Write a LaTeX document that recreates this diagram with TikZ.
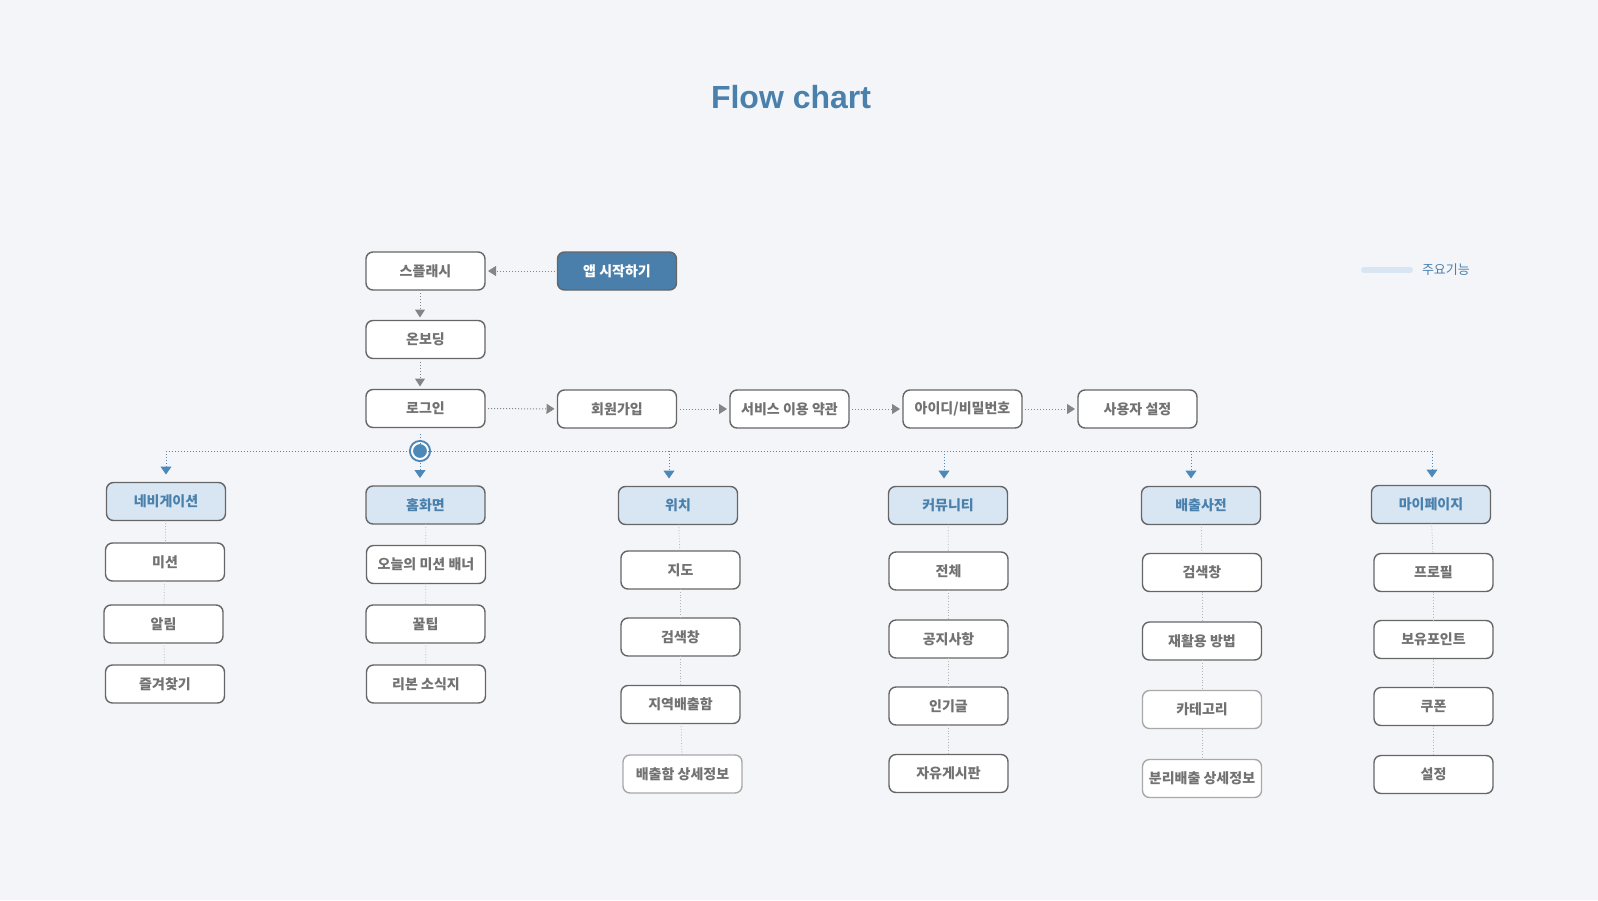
\documentclass[tikz,border=0pt]{standalone}
\usepackage{fontspec}
\newfontfamily\krfont{Noto Sans CJK KR}
\newfontfamily\titlefont{Liberation Sans}
\definecolor{bg}{HTML}{F3F5F9}
\definecolor{bd}{HTML}{666666}
\definecolor{bdl}{HTML}{A8A8A8}
\definecolor{tx}{HTML}{727272}
\definecolor{hd}{HTML}{D8E6F3}
\definecolor{hdtx}{HTML}{4A80AC}
\definecolor{st}{HTML}{4A7FAB}
\definecolor{ln}{HTML}{4D89B8}
\definecolor{ar}{HTML}{858585}
\definecolor{lk}{HTML}{B5B5B5}
\usepackage{tikz}
\usetikzlibrary{arrows.meta}
\tikzstyle{base}=[x=1pt, y=-1pt, inner sep=0pt, outer sep=0pt]
\tikzstyle{box}=[draw=bd, line width=1.4pt, rounded corners=7pt, fill=white, minimum width=119pt, minimum height=38pt, text=tx, font=\krfont\bfseries\fontsize{14}{16}\selectfont]
\tikzstyle{faint}=[box, draw=bdl]
\tikzstyle{head}=[box, fill=hd, text=hdtx]
\tikzstyle{start}=[box, fill=st, text=white]
\tikzstyle{flow}=[draw=ar, line width=1pt, dotted, -{Triangle[width=10pt,length=8pt]}, shorten <=3pt, shorten >=3pt]
\tikzstyle{bus}=[draw=ln, line width=1pt, dotted]
\tikzstyle{drop}=[bus, -{Triangle[width=11pt,length=8pt]}, shorten >=8pt]
\tikzstyle{link}=[draw=lk, line width=0.8pt, dotted]

\begin{document}
\begin{tikzpicture}[base]
    \fill [bg] (0,0) rectangle (1598,900);
    \path [use as bounding box] (0,0) rectangle (1598,900);
    \node [font=\titlefont\bfseries\fontsize{32}{36}\selectfont, text=hdtx] (title) at (791,97) {Flow chart};

    \coordinate (k1) at (1364,270);
    \coordinate (k2) at (1410,270);
    \draw [hd, line width=6pt, line cap=round] (k1) -- (k2);
    \node [anchor=west, text=hdtx, font=\krfont\fontsize{13}{15}\selectfont] (key) at (1422,270) {주요기능};

    \node [box] (splash) at (425.5,271) {스플래시};
    \node [start] (app) at (617,271) {앱 시작하기};
    \node [box] (onboard) at (425.5,339.5) {온보딩};
    \node [box] (login) at (425.5,408.5) {로그인};
    \node [box] (signup) at (617,409) {회원가입};
    \node [box] (terms) at (789.5,409) {서비스 이용 약관};
    \node [box] (account) at (962.5,409) {아이디/비밀번호};
    \node [box] (usercfg) at (1137.5,409) {사용자 설정};

    \draw [flow] (app) -- (splash);
    \draw [flow] ([xshift=-5.5pt]splash.south) -- ([xshift=-5.5pt]onboard.north);
    \draw [flow] ([xshift=-5.5pt]onboard.south) -- ([xshift=-5.5pt]login.north);
    \draw [flow] (login) -- (signup);
    \draw [flow] (signup) -- (terms);
    \draw [flow] (terms) -- (account);
    \draw [flow] (account) -- (usercfg);

    \node [circle, fill=ln, draw=ln, double=white, double distance=2pt, line width=2pt, minimum size=16pt] (hub) at (420,451) {};
    \coordinate (d1) at (166,451);
    \coordinate (d3) at (669,451);
    \coordinate (d4) at (944,451);
    \coordinate (d5) at (1191,451);
    \coordinate (d6) at (1432,451);

    \node [head] (nav) at (166,501.5) {네비게이션};
    \node [head] (home) at (425.5,505) {홈화면};
    \node [head] (loc) at (678,505.5) {위치};
    \node [head] (comm) at (948,505.5) {커뮤니티};
    \node [head] (dict) at (1201,505.5) {배출사전};
    \node [head] (my) at (1431,504.5) {마이페이지};

    \draw [bus, shorten <=6pt] ([xshift=-5.5pt]login.south) -- (hub);
    \draw [bus] (d1) -- (hub) -- (d6);
    \draw [drop] (d1) -- (d1 |- nav.north);
    \draw [drop, shorten <=1pt] (hub) -- (hub |- home.north);
    \draw [drop] (d3) -- (d3 |- loc.north);
    \draw [drop] (d4) -- (d4 |- comm.north);
    \draw [drop] (d5) -- (d5 |- dict.north);
    \draw [drop] (d6) -- (d6 |- my.north);

    \node [box] (nav1) at (165,562) {미션};
    \node [box] (nav2) at (163.5,624) {알림};
    \node [box] (nav3) at (165,684) {즐겨찾기};
    \node [box] (home1) at (426,564.5) {오늘의 미션 배너};
    \node [box] (home2) at (425.5,624) {꿀팁};
    \node [box] (home3) at (426,684) {리본 소식지};
    \node [box] (loc1) at (680.5,570) {지도};
    \node [box] (loc2) at (680.5,637) {검색창};
    \node [box] (loc3) at (680.5,704.5) {지역배출함};
    \node [faint] (loc4) at (682.5,774) {배출함 상세정보};
    \node [box] (comm1) at (948.5,571) {전체};
    \node [box] (comm2) at (948.5,639) {공지사항};
    \node [box] (comm3) at (948.5,706) {인기글};
    \node [box] (comm4) at (948.5,773.5) {자유게시판};
    \node [box] (dict1) at (1202,572.5) {검색창};
    \node [box] (dict2) at (1202,641) {재활용 방법};
    \node [faint] (dict3) at (1202,709.5) {카테고리};
    \node [faint] (dict4) at (1202,778.5) {분리배출 상세정보};
    \node [box] (my1) at (1433.5,572.5) {프로필};
    \node [box] (my2) at (1433.5,639.5) {보유포인트};
    \node [box] (my3) at (1433.5,706.5) {쿠폰};
    \node [box] (my4) at (1433.5,774.5) {설정};

    \draw [link] (nav) -- (nav1);
    \draw [link] (nav1) -- (nav2);
    \draw [link] (nav2) -- (nav3);
    \draw [link] (home) -- (home1);
    \draw [link] (home1) -- (home2);
    \draw [link] (home2) -- (home3);
    \draw [link] (loc) -- (loc1);
    \draw [link] (loc1) -- (loc2);
    \draw [link] (loc2) -- (loc3);
    \draw [link] (loc3) -- (loc4);
    \draw [link] (comm) -- (comm1);
    \draw [link] (comm1) -- (comm2);
    \draw [link] (comm2) -- (comm3);
    \draw [link] (comm3) -- (comm4);
    \draw [link] (dict) -- (dict1);
    \draw [link] (dict1) -- (dict2);
    \draw [link] (dict2) -- (dict3);
    \draw [link] (dict3) -- (dict4);
    \draw [link] (my) -- (my1);
    \draw [link] (my1) -- (my2);
    \draw [link] (my2) -- (my3);
    \draw [link] (my3) -- (my4);
\end{tikzpicture}
\end{document}
